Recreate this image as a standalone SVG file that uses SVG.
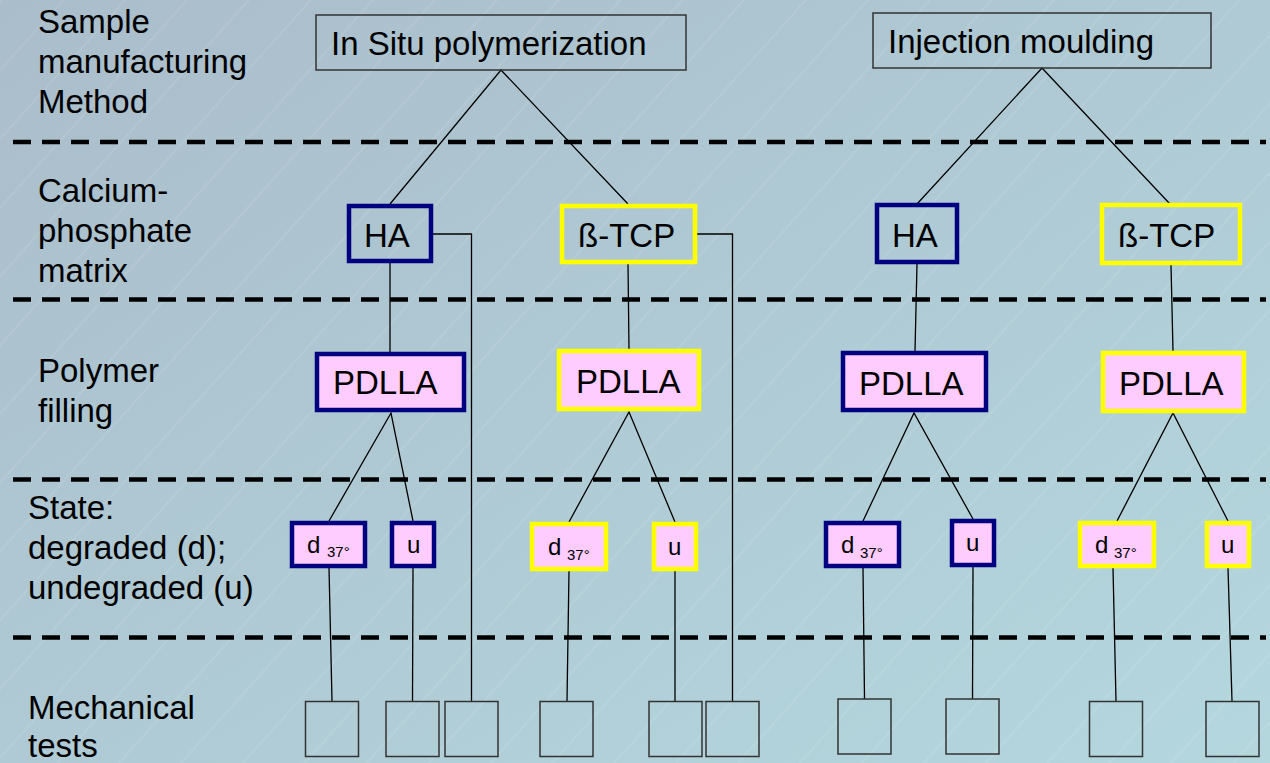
<svg xmlns="http://www.w3.org/2000/svg" width="1270" height="763" viewBox="0 0 1270 763">
<defs>
<linearGradient id="bg" x1="0" y1="0" x2="1" y2="1">
<stop offset="0" stop-color="#aabdca"/>
<stop offset="1" stop-color="#b4d7de"/>
</linearGradient>
<pattern id="hatch" width="46" height="46" patternUnits="userSpaceOnUse" patternTransform="rotate(42)">
<line x1="1" y1="0" x2="1" y2="46" stroke="#ffffff" stroke-opacity="0.28" stroke-width="0.6"/>
</pattern>
<style>
text{font-family:"Liberation Sans",Arial,sans-serif;fill:#000}
.lbl{font-size:33px}
.big{font-size:33px}
.sm{font-size:24px}
.sub{font-size:15px}
.top{fill:none;stroke:#333;stroke-width:1.5}
.navy{fill:none;stroke:#000080;stroke-width:4.5}
.yel{fill:none;stroke:#ffff00;stroke-width:4.5}
.pink{fill:#ffccff}
.test{fill:none;stroke:#333;stroke-width:1.5}
.dash{stroke:#000;stroke-width:4.5;stroke-dasharray:18 11}
.conn{fill:none;stroke:#000;stroke-width:1.3}
</style>
</defs>
<rect width="1270" height="763" fill="url(#bg)"/>
<rect width="1270" height="763" fill="url(#hatch)"/>

<g id="dividers">
<line class="dash" x1="13" y1="142" x2="1266" y2="142"/>
<line class="dash" x1="13" y1="299.5" x2="1266" y2="299.5"/>
<line class="dash" x1="13" y1="479.5" x2="1266" y2="479.5"/>
<line class="dash" x1="13" y1="637.5" x2="1266" y2="637.5"/>
</g>

<g id="row-labels">
<text class="lbl" x="38" y="33">Sample</text>
<text class="lbl" x="38" y="73">manufacturing</text>
<text class="lbl" x="38" y="113">Method</text>
<text class="lbl" x="38" y="202">Calcium-</text>
<text class="lbl" x="38" y="242">phosphate</text>
<text class="lbl" x="38" y="282">matrix</text>
<text class="lbl" x="38" y="382">Polymer</text>
<text class="lbl" x="38" y="422">filling</text>
<text class="lbl" x="28" y="519">State:</text>
<text class="lbl" x="28" y="559">degraded (d);</text>
<text class="lbl" x="28" y="599">undegraded (u)</text>
<text class="lbl" x="28" y="719">Mechanical</text>
<text class="lbl" x="28" y="757">tests</text>
</g>

<g id="connectors">
<polyline class="conn" points="390,204 501,70 628,204"/>
<polyline class="conn" points="917,204 1042,68 1170,204"/>
<line class="conn" x1="390" y1="263" x2="390" y2="352"/>
<line class="conn" x1="628" y1="264" x2="629" y2="349"/>
<line class="conn" x1="917" y1="264" x2="915" y2="351"/>
<line class="conn" x1="1171" y1="265" x2="1173" y2="351"/>
<polyline class="conn" points="433,234 471.5,234 471.5,701"/>
<polyline class="conn" points="697,234 732.5,234 732.5,701"/>
<polyline class="conn" points="329,521 391,413 413,521"/>
<polyline class="conn" points="569,522 629,412 675,522"/>
<polyline class="conn" points="863,521 914,413 973,519"/>
<polyline class="conn" points="1117,521 1173,413 1228,521"/>
<line class="conn" x1="329" y1="568" x2="332" y2="701"/>
<line class="conn" x1="413" y1="568" x2="412.5" y2="701"/>
<line class="conn" x1="569" y1="571" x2="567" y2="701"/>
<line class="conn" x1="675" y1="571" x2="675" y2="701"/>
<line class="conn" x1="863" y1="568" x2="864.5" y2="699"/>
<line class="conn" x1="973" y1="567" x2="972.5" y2="699"/>
<line class="conn" x1="1113" y1="568" x2="1116" y2="701"/>
<line class="conn" x1="1228" y1="568" x2="1232" y2="701"/>
</g>

<g id="insitu"><rect class="top" x="316" y="15" width="370" height="55"/><text class="big" x="331" y="55">In Situ polymerization</text></g>
<g id="injection"><rect class="top" x="873" y="13" width="338" height="55"/><text class="big" x="888" y="53">Injection moulding</text></g>

<g id="ha1"><rect class="navy" x="349" y="206" width="82" height="55"/><text class="big" x="364" y="247">HA</text></g>
<g id="tcp1"><rect class="yel" x="562" y="206" width="133" height="56"/><text class="big" x="578" y="247">ß-TCP</text></g>
<g id="ha2"><rect class="navy" x="877" y="205" width="80" height="57"/><text class="big" x="892" y="247">HA</text></g>
<g id="tcp2"><rect class="yel" x="1102" y="205" width="138" height="58"/><text class="big" x="1118" y="247">ß-TCP</text></g>

<g id="pdlla1"><rect class="navy pink" x="317" y="354" width="147" height="56"/><text class="big" x="333" y="394">PDLLA</text></g>
<g id="pdlla2"><rect class="yel pink" x="559" y="351" width="140" height="58"/><text class="big" x="576" y="393">PDLLA</text></g>
<g id="pdlla3"><rect class="navy pink" x="843" y="353" width="143" height="57"/><text class="big" x="859" y="395">PDLLA</text></g>
<g id="pdlla4"><rect class="yel pink" x="1103" y="353" width="141" height="58"/><text class="big" x="1119" y="395">PDLLA</text></g>

<g id="d1"><rect class="navy pink" x="292" y="523" width="73" height="43"/><text class="sm" x="307" y="553">d<tspan class="sub" x="327" y="557">37°</tspan></text></g>
<g id="u1"><rect class="navy pink" x="392" y="523" width="42" height="43"/><text class="sm" x="407" y="553">u</text></g>
<g id="d2"><rect class="yel pink" x="532" y="524" width="74" height="45"/><text class="sm" x="548" y="555">d<tspan class="sub" x="567" y="560">37°</tspan></text></g>
<g id="u2"><rect class="yel pink" x="654" y="524" width="42" height="45"/><text class="sm" x="668" y="555">u</text></g>
<g id="d3"><rect class="navy pink" x="826" y="523" width="73" height="43"/><text class="sm" x="841" y="553">d<tspan class="sub" x="860" y="558">37°</tspan></text></g>
<g id="u3"><rect class="navy pink" x="952" y="521" width="42" height="44"/><text class="sm" x="966" y="551">u</text></g>
<g id="d4"><rect class="yel pink" x="1080" y="523" width="74" height="43"/><text class="sm" x="1095" y="553">d<tspan class="sub" x="1114" y="558">37°</tspan></text></g>
<g id="u4"><rect class="yel pink" x="1207" y="523" width="42" height="43"/><text class="sm" x="1221" y="553">u</text></g>

<g id="test1"><rect class="test" x="305.5" y="701.5" width="53" height="55"/></g>
<g id="test2"><rect class="test" x="386" y="701.5" width="53" height="55"/></g>
<g id="test3"><rect class="test" x="445" y="701.5" width="53" height="55"/></g>
<g id="test4"><rect class="test" x="540" y="701.5" width="53" height="55"/></g>
<g id="test5"><rect class="test" x="649" y="701.5" width="53" height="55"/></g>
<g id="test6"><rect class="test" x="706" y="701.5" width="53" height="55"/></g>
<g id="test7"><rect class="test" x="838" y="699" width="53" height="55"/></g>
<g id="test8"><rect class="test" x="946" y="699" width="53" height="55"/></g>
<g id="test9"><rect class="test" x="1089.5" y="701.5" width="53" height="55"/></g>
<g id="test10"><rect class="test" x="1206" y="701.5" width="53" height="55"/></g>
</svg>
